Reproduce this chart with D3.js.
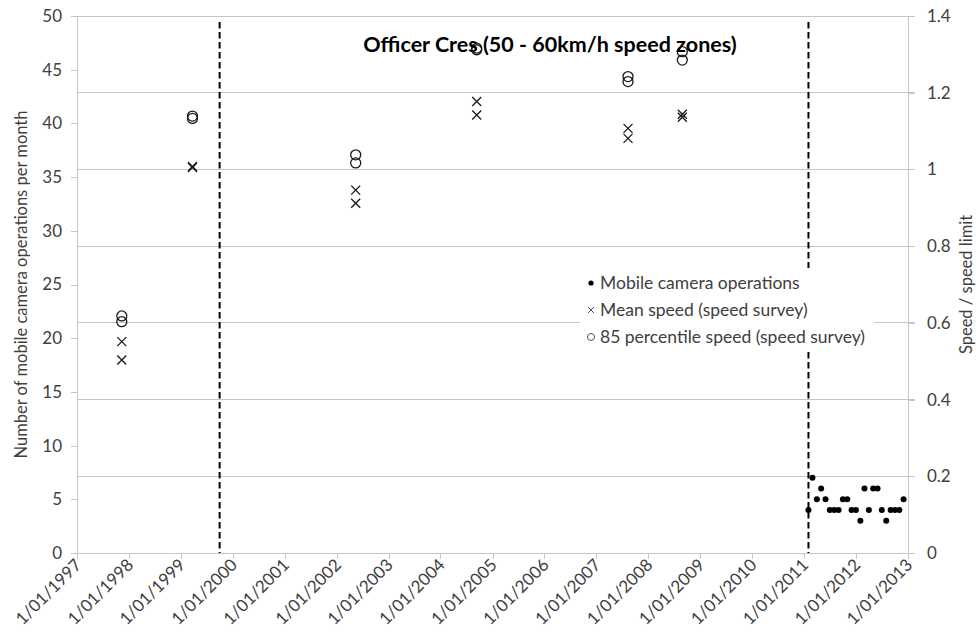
<!DOCTYPE html>
<html>
<head>
<meta charset="utf-8">
<script src="https://cdn.jsdelivr.net/npm/d3@7"></script>
<style>
  html, body { margin: 0; padding: 0; background: #fff; }
  svg { display: block; font-family: Lato, "Open Sans", sans-serif; }
</style>
</head>
<body>
<svg id="chart" width="976" height="637"></svg>
<script>
// ---------- data ----------
const chartTitle = "Officer Cres (50 - 60km/h speed zones)";
const leftAxisTitle = "Number of mobile camera operations per month";
const rightAxisTitle = "Speed / speed limit";

const yearTicks = [1997,1998,1999,2000,2001,2002,2003,2004,2005,2006,2007,2008,2009,2010,2011,2012,2013];
const leftTicks = [0,5,10,15,20,25,30,35,40,45,50];
const rightTicks = [0,0.2,0.4,0.6,0.8,1,1.2,1.4];

// Mobile camera operations per month (left axis)
const cameraMonths = ["2011-02-01","2011-03-01","2011-04-01","2011-05-01","2011-06-01","2011-07-01",
  "2011-08-01","2011-09-01","2011-10-01","2011-11-01","2011-12-01","2012-01-01","2012-02-01",
  "2012-03-01","2012-04-01","2012-05-01","2012-06-01","2012-07-01","2012-08-01","2012-09-01",
  "2012-10-01","2012-11-01","2012-12-01"];
const cameraOps = [4,7,5,6,5,4,4,4,5,5,4,4,3,6,4,6,6,4,3,4,4,4,5];

// Speed surveys (right axis, speed / speed limit)
const surveyDates = ["1997-11-12","1997-11-12","1999-03-24","1999-03-24","2002-05-15","2002-05-15",
  "2004-09-12","2004-09-12","2007-08-12","2007-08-12","2008-08-28","2008-08-28"];
const meanSpeed = [0.551,0.503,1.008,1.005,0.946,0.912,1.177,1.142,1.107,1.081,1.144,1.136];
const p85Speed  = [0.618,0.603,1.139,1.133,1.038,1.017,1.316,1.312,1.242,1.229,1.307,1.285];

// Vertical event markers (dashed lines)
const eventDates = ["1999-10-01","2011-02-01"];

const legendLabels = ["Mobile camera operations","Mean speed (speed survey)","85 percentile speed (speed survey)"];

// ---------- layout ----------
const plot = { left: 77, right: 908, top: 16, bottom: 553 };
const parse = d3.utcParse("%Y-%m-%d");
const textColor = "#404040";
const gridColor = "#c6c6c6";

const x = d3.scaleUtc()
  .domain([Date.UTC(1997,0,1), Date.UTC(2013,0,1)])
  .range([plot.left, plot.right]);
const yL = d3.scaleLinear().domain([0,50]).range([plot.bottom, plot.top]);
const yR = d3.scaleLinear().domain([0,1.4]).range([plot.bottom, plot.top]);

const svg = d3.select("#chart");

// gridlines (aligned to right axis)
svg.append("g")
  .selectAll("line")
  .data(rightTicks.filter(d => d > 0))
  .join("line")
  .attr("x1", plot.left).attr("x2", plot.right + 7)
  .attr("y1", d => yR(d)).attr("y2", d => yR(d))
  .attr("stroke", gridColor).attr("stroke-width", 1).attr("shape-rendering", "crispEdges");

// left axis
const gL = svg.append("g").attr("transform", `translate(${plot.left},0)`)
  .call(d3.axisLeft(yL).tickValues(leftTicks).tickSize(6).tickPadding(9).tickFormat(d3.format("d")));
// right axis
const gR = svg.append("g").attr("transform", `translate(${plot.right},0)`)
  .call(d3.axisRight(yR).tickValues(rightTicks).tickSize(7).tickPadding(12).tickFormat(d => d3.format("")(+d.toFixed(1))));
// bottom axis
const gB = svg.append("g").attr("transform", `translate(0,${plot.bottom})`)
  .call(d3.axisBottom(x).tickValues(yearTicks.map(y => new Date(Date.UTC(y,0,1))))
    .tickSize(6).tickFormat(d => "1/01/" + d.getUTCFullYear()));

[gL, gR, gB].forEach(g => {
  g.select(".domain").attr("stroke", gridColor).attr("shape-rendering", "crispEdges");
  g.selectAll(".tick line").attr("stroke", gridColor).attr("shape-rendering", "crispEdges");
  g.selectAll("text").attr("fill", textColor).attr("font-size", 17).attr("font-family", "Lato, sans-serif");
});
gL.select(".domain").attr("d", `M0,${plot.bottom}V${plot.top}`);
gR.select(".domain").attr("d", `M0,${plot.bottom}V${plot.top}`);
gB.select(".domain").attr("d", `M${plot.left},0H${plot.right}`);
gB.selectAll("text")
  .attr("text-anchor", "end")
  .attr("dy", null).attr("y", 0)
  .attr("transform", "translate(5,13) rotate(-45)");

// dashed event lines
svg.append("g")
  .selectAll("line")
  .data(eventDates)
  .join("line")
  .attr("x1", d => x(parse(d))).attr("x2", d => x(parse(d)))
  .attr("y1", plot.top + 6).attr("y2", plot.bottom)
  .attr("stroke", "#000").attr("stroke-width", 2).attr("stroke-dasharray", "6.5,3.5");

// camera operations dots
svg.append("g")
  .selectAll("circle")
  .data(cameraOps)
  .join("circle")
  .attr("cx", (d,i) => x(parse(cameraMonths[i])))
  .attr("cy", d => yL(d))
  .attr("r", 3)
  .attr("fill", "#000");

// mean speed crosses
const crossPath = s => `M${-s},${-s}L${s},${s}M${s},${-s}L${-s},${s}`;
svg.append("g")
  .selectAll("path")
  .data(meanSpeed)
  .join("path")
  .attr("transform", (d,i) => `translate(${x(parse(surveyDates[i]))},${yR(d)})`)
  .attr("d", crossPath(4.5))
  .attr("fill", "none").attr("stroke", "#1a1a1a").attr("stroke-width", 1.3);

// 85 percentile circles
svg.append("g")
  .selectAll("circle")
  .data(p85Speed)
  .join("circle")
  .attr("cx", (d,i) => x(parse(surveyDates[i])))
  .attr("cy", d => yR(d))
  .attr("r", 5)
  .attr("fill", "none").attr("stroke", "#1a1a1a").attr("stroke-width", 1.3);

// title
svg.append("text")
  .attr("x", 550).attr("y", 52)
  .attr("text-anchor", "middle")
  .attr("font-size", 21.5).attr("font-weight", "bold")
  .attr("fill", "#000")
  .text(chartTitle);

// axis titles
svg.append("text")
  .attr("transform", `translate(27,${(plot.top + plot.bottom) / 2}) rotate(-90)`)
  .attr("text-anchor", "middle")
  .attr("font-size", 16.5).attr("fill", textColor)
  .text(leftAxisTitle);
svg.append("text")
  .attr("transform", `translate(972,${(plot.top + plot.bottom) / 2}) rotate(-90)`)
  .attr("text-anchor", "middle")
  .attr("font-size", 16.5).attr("fill", textColor)
  .text(rightAxisTitle);

// legend
const lg = svg.append("g").attr("transform", "translate(580,268)");
lg.append("rect").attr("x", 0).attr("y", 0).attr("width", 294).attr("height", 84).attr("fill", "#fff");
const rows = lg.selectAll("g.row").data(legendLabels).join("g")
  .attr("class", "row")
  .attr("transform", (d,i) => `translate(0,${15 + i * 27})`);
rows.append("text")
  .attr("x", 20).attr("y", 0).attr("dy", "0.35em")
  .attr("font-size", 17.5).attr("fill", textColor)
  .text(d => d);
rows.filter((d,i) => i === 0).append("circle").attr("cx", 11).attr("cy", 0).attr("r", 2.6).attr("fill", "#000");
rows.filter((d,i) => i === 1).append("path").attr("transform", "translate(11,0)")
  .attr("d", crossPath(3)).attr("stroke", "#555").attr("stroke-width", 1).attr("fill", "none");
rows.filter((d,i) => i === 2).append("circle").attr("cx", 11).attr("cy", 0).attr("r", 3.5)
  .attr("fill", "none").attr("stroke", "#555").attr("stroke-width", 1);
</script>
</body>
</html>
